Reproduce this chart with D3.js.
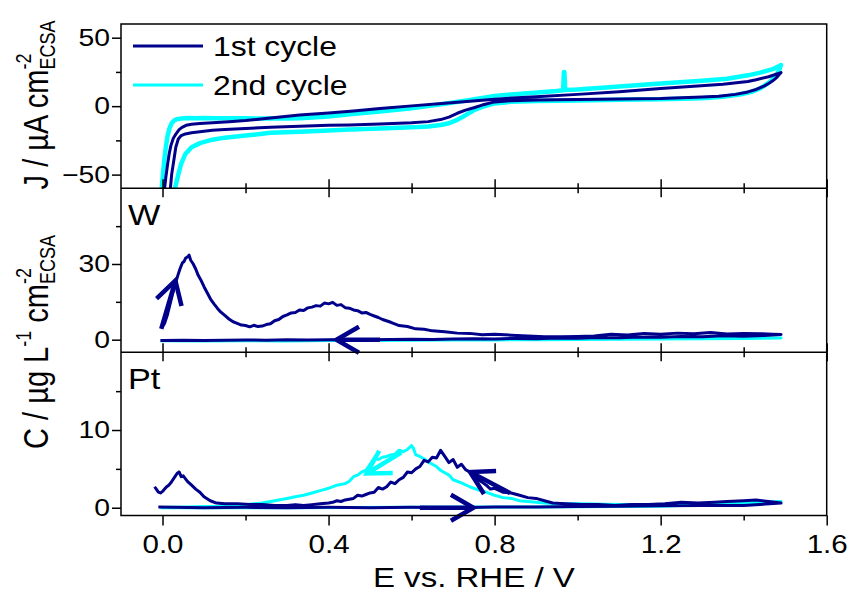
<!DOCTYPE html>
<html><head><meta charset="utf-8">
<script src="https://cdnjs.cloudflare.com/ajax/libs/d3/7.8.5/d3.min.js"></script>
<style>
body{margin:0;background:#fff}
svg{display:block}
text{font-family:"Liberation Sans",Arial,sans-serif;fill:#000}
</style>
</head><body>
<svg id="chart" width="849" height="593"></svg>
<script>
// ---------------- DATA ----------------
const seriesNames = ["1st cycle", "2nd cycle"];
const seriesColors = ["#00008B", "#00FFFF"];

// Panel 1: cyclic voltammograms (E / V, J / uA cm-2), loop anodic -> cathodic
const cv1E = [0.005,0.008,0.012,0.016,0.02,0.026,0.033,0.04,0.047,0.057,0.07,0.09,0.12,0.16,0.2,0.26,0.33,0.4,0.46,0.524,0.6,0.68,0.74,0.8,0.9,1.0,1.1,1.2,1.28,1.35,1.41,1.43,1.46,1.48,1.49,
  1.488,1.48,1.47,1.46,1.45,1.43,1.41,1.38,1.34,1.3,1.2,1.1,1.0,0.9,0.84,0.8,0.77,0.75,0.73,0.71,0.69,0.67,0.64,0.6,0.524,0.45,0.4,0.33,0.26,0.2,0.15,0.12,0.09,0.07,0.055,0.045,0.038,0.032,0.027,0.022,0.019];
const cv1J = [-60,-52,-43,-35,-29,-23.5,-20,-17.2,-15.5,-14,-13.2,-12.7,-12.2,-11.4,-10.5,-8.7,-6.5,-5,-3.5,-1.7,0.2,2.2,3.6,5.1,6.9,8.6,10.6,12.9,14.5,16,18,19.3,21.5,23.5,24.5,
  24,21,18.5,16.5,14.8,12.2,10.4,8.6,7.2,6.6,5.6,5.3,4.9,4.5,4.0,3.1,0.8,-1.2,-2.9,-5.2,-8,-9.8,-11.3,-12.2,-13.1,-13.7,-14,-14.6,-15.5,-16.3,-17,-17.6,-18.7,-19.5,-20.3,-21.5,-24,-30,-40,-50,-60];
const cv2E = [-0.002,0.001,0.004,0.008,0.012,0.017,0.022,0.028,0.035,0.045,0.06,0.08,0.1,0.13,0.17,0.2,0.25,0.3,0.33,0.4,0.45,0.524,0.6,0.68,0.74,0.8,0.88,0.95,0.965,0.967,0.968,0.97,1.0,1.1,1.2,1.3,1.36,1.41,1.44,1.47,1.49,
  1.485,1.475,1.46,1.44,1.42,1.39,1.35,1.3,1.2,1.1,1.0,0.9,0.84,0.8,0.77,0.75,0.73,0.71,0.69,0.67,0.64,0.6,0.524,0.45,0.4,0.33,0.26,0.2,0.15,0.12,0.09,0.07,0.055,0.045,0.038,0.03];
const cv2J = [-60,-50,-40,-30,-22,-16,-12.5,-10.5,-9.5,-9,-8.7,-8.8,-8.6,-8.9,-8.8,-8.9,-9,-9,-8.8,-7.5,-6,-4,-1.5,1.8,4.5,7.5,9.5,11,11.6,25,25,11.8,12.2,14.3,16.5,18.5,20,22.5,24.5,27,30,
  26,21,17,13,10.5,8.5,6.8,5.8,5,4.6,4.2,3.7,3.2,2,-0.5,-3,-6.6,-10,-12.5,-13.8,-14.8,-15.5,-16.3,-17,-17.8,-18.7,-19.5,-21.5,-23,-24.5,-27,-30,-35,-42,-50,-60];

// Panel 2: W concentration (ug L-1 cm-2)
const w1E = [-0.003,0.005,0.012,0.018,0.024,0.03,0.036,0.042,0.048,0.052,0.056,0.06,0.064,0.068,0.074,0.08,0.086,0.092,0.1,0.108,0.116,0.124,0.132,0.14,0.15,0.16,0.17,0.18,0.19,0.2,0.21,0.22,0.23,0.24,0.25,0.26,0.27,0.28,0.29,0.3,0.31,0.32,0.33,0.34,0.35,0.36,0.37,0.38,0.39,0.4,0.41,0.42,0.43,0.44,0.45,0.46,0.47,0.48,0.49,0.5,0.51,0.52,0.53,0.55,0.57,0.59,0.61,0.63,0.65,0.68,0.71,0.74,0.77,0.8,0.84,0.88,0.92,0.96,1.0,1.04,1.08,1.12,1.16,1.2,1.24,1.28,1.32,1.36,1.4,1.44,1.47,1.49,
  1.45,1.4,1.35,1.3,1.25,1.2,1.15,1.1,1.05,1.0,0.95,0.9,0.85,0.8,0.75,0.7,0.65,0.6,0.55,0.5,0.45,0.4,0.35,0.3,0.25,0.2,0.15,0.1,0.05,0.0,-0.005];
const w1C = [4.6,6.5,10,14,18,21.5,25,28,30.5,31,32.4,32.8,33.5,31.5,30,28,25.5,23.8,21,18.5,16,14.2,12.5,11,9.6,8.2,7.1,6.5,5.8,5.6,5.1,5.7,5.2,5.4,6,6.3,7.5,8,9.2,9.8,10.6,10.8,11.8,11.6,12.6,12.9,13.5,13.3,14.5,14.2,14.8,13.6,13.9,12.7,12.5,11.8,11.5,10.6,10.8,10,9.4,8.8,8,6.9,5.6,5.2,4.3,4.1,3.5,3.1,2.6,2.5,2,2.2,1.8,1.5,1.2,1.2,1.3,1.5,2.2,1.9,2.5,2.2,2.6,2.4,2.8,2.3,2.5,2.4,2.2,2.1,
  1.7,1.4,1.6,1.2,1.3,1.0,1.1,0.8,0.9,0.6,0.7,0.4,0.5,0.3,0.4,0.3,0.1,0.2,0.1,0.0,0.1,0.0,-0.1,0.0,-0.2,-0.1,-0.2,-0.3,-0.2,-0.3,-0.3];
const w2E = [-0.005,0.1,0.2,0.3,0.4,0.5,0.6,0.7,0.8,0.9,1.0,1.1,1.2,1.3,1.4,1.49,1.4,1.3,1.2,1.1,1.0,0.9,0.8,0.7,0.6,0.5,0.4,0.3,0.2,0.1,-0.005];
const w2C = [-0.4,-0.5,-0.4,-0.5,-0.3,-0.3,-0.2,-0.1,0.0,0.1,0.2,0.3,0.4,0.5,0.6,0.7,0.5,0.4,0.3,0.2,0.1,0.0,-0.1,-0.1,-0.2,-0.2,-0.3,-0.3,-0.4,-0.4,-0.4];

// Panel 3: Pt concentration (ug L-1 cm-2)
const pt1E = [-0.01,0.1,0.2,0.3,0.4,0.5,0.6,0.7,0.8,0.9,1.0,1.1,1.2,1.3,1.4,1.49,
  1.46,1.43,1.4,1.36,1.33,1.29,1.25,1.21,1.17,1.13,1.09,1.05,1.01,0.97,0.94,0.92,0.9,0.88,0.86,0.84,0.82,0.8,0.79,0.78,0.77,0.76,0.75,0.74,0.73,0.72,0.71,0.7,0.69,0.68,0.675,0.67,0.66,0.65,0.64,0.63,0.62,0.61,0.6,0.59,0.58,0.57,0.56,0.55,0.54,0.53,0.52,0.51,0.5,0.49,0.48,0.47,0.46,0.45,0.44,0.43,0.42,0.41,0.4,0.38,0.36,0.34,0.32,0.3,0.27,0.24,0.21,0.18,0.15,0.13,0.115,0.1,0.09,0.08,0.07,0.06,0.05,0.045,0.04,0.035,0.03,0.025,0.02,0.015,0.01,0.005,0.0,-0.005,-0.01,-0.015,-0.019];
const pt1C = [0.1,0.0,0.05,0.0,0.05,0.0,0.05,0.0,0.1,0.1,0.15,0.2,0.25,0.3,0.3,0.6,
  0.8,1.0,0.9,0.8,0.7,0.6,0.7,0.5,0.4,0.4,0.3,0.4,0.4,0.5,0.6,0.9,1.2,1.3,1.6,1.9,2.0,2.5,2.4,2.9,3.3,3.6,4.0,4.6,4.9,5.6,5.2,6.2,5.8,6.6,7.0,7.4,6.4,6.5,5.9,6.1,5.3,5.0,4.5,4.6,3.9,3.6,3.1,3.3,2.7,2.4,2.6,2.0,1.9,1.7,1.5,1.6,1.2,1.1,1.0,0.8,0.9,0.7,0.6,0.5,0.4,0.3,0.4,0.3,0.3,0.4,0.4,0.5,0.5,0.6,0.9,1.4,2.0,2.4,2.9,3.4,4.1,4.0,4.6,4.4,4.0,3.6,3.2,2.9,2.7,2.4,2.1,1.9,2.0,2.4,2.7];
const pt2E = [-0.005,0.3,0.6,0.9,1.2,1.49,1.4,1.3,1.2,1.1,1.0,0.95,0.92,0.9,0.88,0.86,0.84,0.82,0.8,0.78,0.76,0.74,0.72,0.7,0.69,0.68,0.67,0.66,0.65,0.64,0.63,0.62,0.61,0.605,0.6,0.59,0.58,0.57,0.56,0.55,0.54,0.53,0.52,0.51,0.5,0.49,0.48,0.47,0.46,0.45,0.44,0.42,0.4,0.38,0.36,0.34,0.32,0.3,0.28,0.26,0.24,0.22,0.2,0.17,0.14,0.1,0.06,0.02,-0.005];
const pt2C = [0.0,0.0,0.05,0.1,0.2,0.8,0.6,0.5,0.4,0.4,0.5,0.5,0.6,0.7,0.8,0.9,1.2,1.3,1.6,2.0,2.3,2.7,3.2,3.6,4.2,4.5,4.8,5.3,5.6,5.9,6.3,6.6,6.8,7.6,8.0,7.5,7.2,7.4,6.9,6.8,6.6,6.5,6.2,6.4,5.6,4.8,4.6,4.2,4.0,3.4,3.1,2.9,2.5,2.2,1.9,1.6,1.4,1.2,1.0,0.8,0.6,0.5,0.4,0.3,0.2,0.15,0.1,0.05,0.0];

// Scan-direction arrows: panel index, tail (E, value), tip (E, value), series index
const arrowPanel = [1, 1, 2, 2, 2];
const arrowTailE = [-0.003, 0.524, 0.575, 0.837, 0.62];
const arrowTailV = [4.3, 0.0, 7.1, 1.9, 0.0];
const arrowTipE  = [0.031, 0.419, 0.492, 0.741, 0.749];
const arrowTipV  = [23.4, 0.0, 4.4, 4.6, 0.0];
const arrowSeries = [0, 0, 1, 0, 0];

// Axes
const xDomain = [-0.1, 1.6];
const xMajorTicks = [0.0, 0.4, 0.8, 1.2, 1.6];
const xMinorTicks = [0.2, 0.6, 1.0, 1.4];
const panelDomains = [[-60, 60], [-5, 60], [-1, 20]];
const panelMajorTicks = [[-50, 0, 50], [0, 30], [0, 10]];
const panelMinorTicks = [[-25, 25], [15, 45], [5, 15]];
const panelLabels = ["", "W", "Pt"];

// ---------------- DRAW ----------------
const svg = d3.select("#chart");
const SX = 1.18; // horizontal glyph stretch of the original export
const X0 = 121, X1 = 826.7;
const panelTops = [24, 188.3, 352.3];
const panelBottoms = [188.3, 352.3, 515.5];
const x = d3.scaleLinear().domain(xDomain).range([X0, X1]);
const ys = panelDomains.map((d, i) => d3.scaleLinear().domain(d).range([panelBottoms[i], panelTops[i]]));

const defs = svg.append("defs");
panelTops.forEach((t, i) => {
  defs.append("clipPath").attr("id", "clip" + i)
    .append("rect").attr("x", X0).attr("y", t).attr("width", X1 - X0).attr("height", panelBottoms[i] - t);
});

const line = (y) => d3.line().x(d => x(d[0])).y(d => y(d[1]));
const zip = (a, b) => a.map((v, i) => [v, b[i]]);

const panelSeries = [
  [[cv2E, cv2J, 1, 4.5], [cv1E, cv1J, 0, 3]],
  [[w2E, w2C, 1, 3], [w1E, w1C, 0, 3]],
  [[pt2E, pt2C, 1, 3], [pt1E, pt1C, 0, 3]]
];
panelSeries.forEach((ser, i) => {
  const g = svg.append("g").attr("clip-path", `url(#clip${i})`);
  ser.forEach(([e, v, s, w]) => {
    g.append("path").attr("d", line(ys[i])(zip(e, v)))
      .attr("fill", "none").attr("stroke", seriesColors[s]).attr("stroke-width", w)
      .attr("stroke-linejoin", "round");
  });
});

// arrows
arrowPanel.forEach((p, i) => {
  const y = ys[p];
  const tx = x(arrowTailE[i]), ty = y(arrowTailV[i]);
  const hx = x(arrowTipE[i]), hy = y(arrowTipV[i]);
  const ang = Math.atan2(ty - hy, tx - hx);
  const L = 26, a = Math.PI / 6;
  const w1 = [hx + L * Math.cos(ang + a), hy + L * Math.sin(ang + a)];
  const w2 = [hx + L * Math.cos(ang - a), hy + L * Math.sin(ang - a)];
  const g = svg.append("g").attr("stroke", seriesColors[arrowSeries[i]]).attr("stroke-width", 4.5)
    .attr("fill", "none").attr("stroke-linecap", "butt");
  g.append("path").attr("d", `M${tx},${ty}L${hx},${hy}`);
  g.append("path").attr("d", `M${w1[0]},${w1[1]}L${hx},${hy}L${w2[0]},${w2[1]}`).attr("stroke-linejoin", "miter");
});

// frame
const frame = svg.append("g").attr("stroke", "#000").attr("stroke-width", 1.5).attr("fill", "none");
frame.append("rect").attr("x", X0).attr("y", panelTops[0]).attr("width", X1 - X0).attr("height", panelBottoms[2] - panelTops[0]);
[1, 2].forEach(i => frame.append("line").attr("x1", X0).attr("x2", X1).attr("y1", panelTops[i]).attr("y2", panelTops[i]));

function styleAxis(g) {
  g.select(".domain").remove();
  g.selectAll(".tick line").attr("stroke", "#000").attr("stroke-width", 1.5);
}

// y axes
ys.forEach((y, i) => {
  svg.append("g").attr("transform", `translate(${X0},0)`)
    .call(d3.axisLeft(y).tickValues(panelMajorTicks[i]).tickSize(9).tickFormat(d3.format("d")))
    .call(styleAxis)
    .call(g => g.selectAll("text").attr("font-size", 24).attr("font-family", "Liberation Sans, Arial, sans-serif")
      .attr("x", null).attr("transform", `translate(-11,0) scale(${SX},1)`));
  svg.append("g").attr("transform", `translate(${X0},0)`)
    .call(d3.axisLeft(y).tickValues(panelMinorTicks[i]).tickSize(5).tickFormat(""))
    .call(styleAxis);
});

// inter-panel crossing ticks
[1, 2].forEach(i => {
  [d3.axisBottom, d3.axisTop].forEach(ax => {
    svg.append("g").attr("transform", `translate(0,${panelTops[i]})`)
      .call(ax(x).tickValues(xMajorTicks).tickSize(9).tickFormat("")).call(styleAxis);
    svg.append("g").attr("transform", `translate(0,${panelTops[i]})`)
      .call(ax(x).tickValues(xMinorTicks).tickSize(5).tickFormat("")).call(styleAxis);
  });
});

// bottom x axis
svg.append("g").attr("transform", `translate(0,${panelBottoms[2]})`)
  .call(d3.axisBottom(x).tickValues(xMajorTicks).tickSize(10).tickPadding(10).tickFormat(d3.format(".1f")))
  .call(styleAxis)
  .call(g => g.selectAll("text").attr("font-size", 25).attr("font-family", "Liberation Sans, Arial, sans-serif")
    .attr("transform", `scale(${SX},1)`));
svg.append("g").attr("transform", `translate(0,${panelBottoms[2]})`)
  .call(d3.axisBottom(x).tickValues(xMinorTicks).tickSize(5).tickFormat(""))
  .call(styleAxis);

// stretched text helper
function stext(px, py, size, str, anchor) {
  return svg.append("text").attr("transform", `translate(${px},${py}) scale(${SX},1)`)
    .attr("font-size", size).attr("text-anchor", anchor || "start").text(str);
}

// panel labels
panelLabels.forEach((t, i) => {
  if (!t) return;
  stext(128, panelTops[i] + 37, 29, t);
});

// legend
seriesNames.forEach((n, i) => {
  const yy = 46 + i * 39;
  svg.append("line").attr("x1", 133).attr("x2", 203).attr("y1", yy).attr("y2", yy)
    .attr("stroke", seriesColors[i]).attr("stroke-width", 3);
  stext(213, yy + 10, 27, n);
});

// x title
stext((X0 + X1) / 2, 587, 28, "E vs. RHE / V", "middle");

// rotated y titles with stacked super/subscripts
function yTitle(cx, cy, parts) {
  const g = svg.append("g").attr("transform", `translate(${cx},${cy}) rotate(-90) scale(1,${SX})`);
  let pos = 0;
  const items = [];
  parts.forEach(p => {
    if (p.stack) {
      const sup = g.append("text").attr("font-size", 18).attr("y", -14).text(p.sup);
      const sub = g.append("text").attr("font-size", 18).attr("y", 6).text(p.sub);
      items.push([sup, pos]); items.push([sub, pos]);
      pos += Math.max(sup.node().getComputedTextLength(), sub.node().getComputedTextLength());
    } else if (p.sup) {
      const t = g.append("text").attr("font-size", 18).attr("y", -14).text(p.sup);
      items.push([t, pos]); pos += t.node().getComputedTextLength();
    } else {
      const t = g.append("text").attr("font-size", 29).attr("y", 0).text(p.text);
      items.push([t, pos]); pos += t.node().getComputedTextLength();
    }
  });
  items.forEach(([t, p]) => t.attr("x", p - pos / 2));
}
yTitle(48, 105, [{text: "J / \u00b5A cm"}, {stack: true, sup: "-2", sub: "ECSA"}]);
yTitle(48, 342, [{text: "C / \u00b5g L"}, {sup: "-1"}, {text: "\u00a0cm"}, {stack: true, sup: "-2", sub: "ECSA"}]);
</script>
</body></html>
